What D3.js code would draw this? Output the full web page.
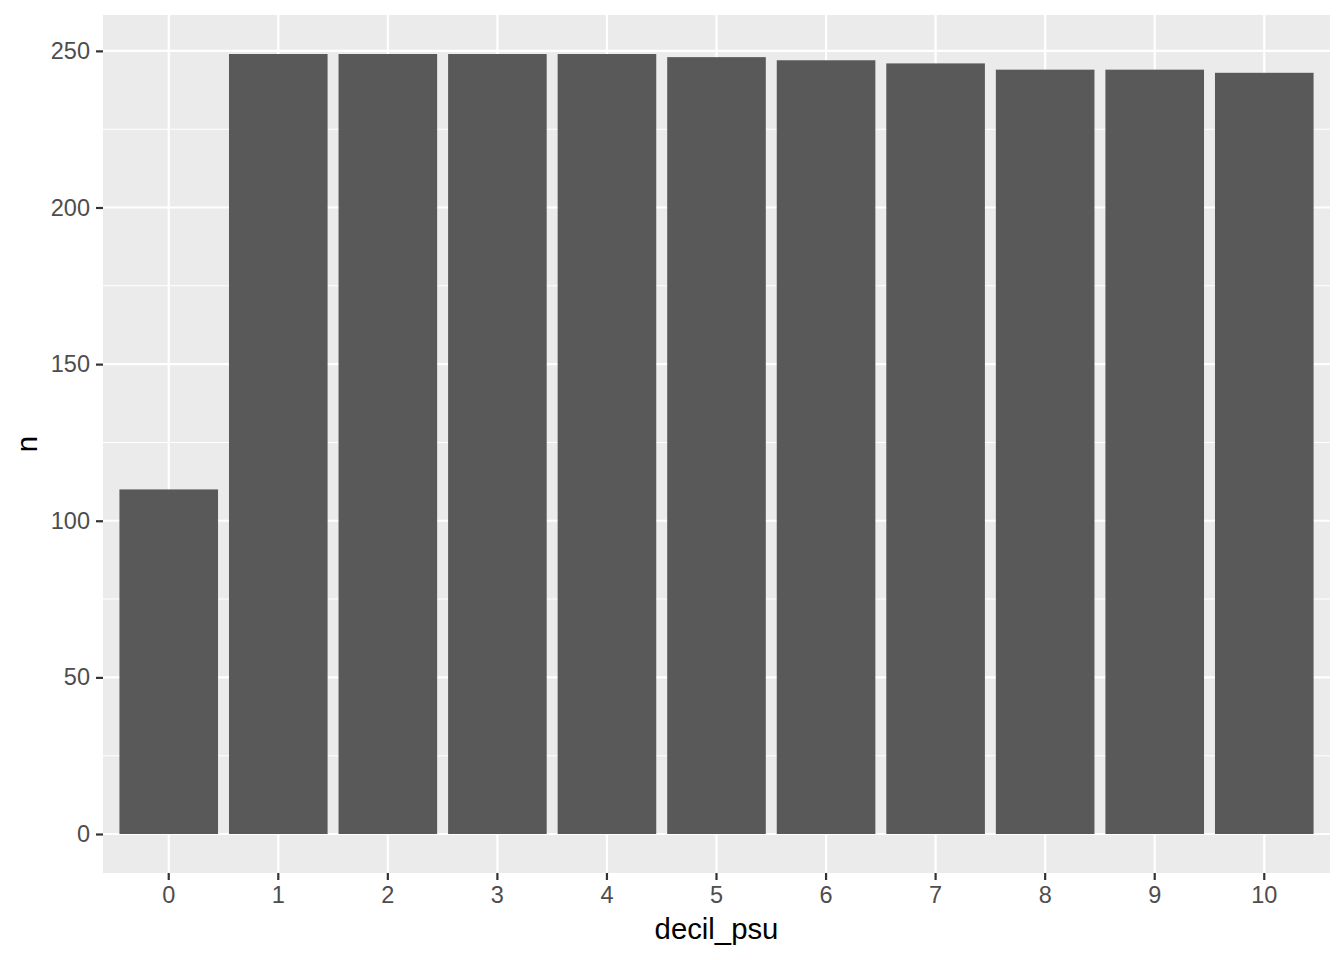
<!DOCTYPE html>
<html>
<head>
<meta charset="utf-8">
<script src="https://cdn.jsdelivr.net/npm/d3@7"></script>
<style>
  body { margin: 0; background: #fff; }
  text { font-family: "Liberation Sans", Arial, sans-serif; }
</style>
</head>
<body>
<script>
'use strict';

const width = 1344;
const height = 960;

// data
const categories = ['0', '1', '2', '3', '4', '5', '6', '7', '8', '9', '10'];
const counts = [110, 249, 249, 249, 249, 248, 247, 246, 244, 244, 243];
const yTicks = [0, 50, 100, 150, 200, 250];
const yMinor = [25, 75, 125, 175, 225];

const panel = { left: 103, right: 1330, top: 15, bottom: 873 };

let svg = d3.select('body').append('svg')
    .attr('width', width)
    .attr('height', height);

// ggplot style expansion: 5% each side of the data range
const ymax = d3.max(counts);
const pad = ymax * 0.05;

let x = d3.scaleBand()
    .domain(categories)
    .range([panel.left, panel.right])
    .paddingInner(0.1)
    .paddingOuter(0.15);

let y = d3.scaleLinear()
    .domain([-pad, ymax + pad])
    .range([panel.bottom, panel.top]);

// panel background
svg.append('rect')
    .attr('x', panel.left)
    .attr('y', panel.top)
    .attr('width', panel.right - panel.left)
    .attr('height', panel.bottom - panel.top)
    .attr('fill', '#ebebeb');

// minor grid
svg.selectAll('line.minor')
    .data(yMinor).enter()
    .append('line')
    .attr('x1', panel.left).attr('x2', panel.right)
    .attr('y1', d => y(d)).attr('y2', d => y(d))
    .attr('stroke', '#fff')
    .attr('stroke-width', 1.1);

// major grid
svg.selectAll('line.majory')
    .data(yTicks).enter()
    .append('line')
    .attr('x1', panel.left).attr('x2', panel.right)
    .attr('y1', d => y(d)).attr('y2', d => y(d))
    .attr('stroke', '#fff')
    .attr('stroke-width', 2.2);

svg.selectAll('line.majorx')
    .data(categories).enter()
    .append('line')
    .attr('x1', d => x(d) + x.bandwidth() / 2)
    .attr('x2', d => x(d) + x.bandwidth() / 2)
    .attr('y1', panel.top).attr('y2', panel.bottom)
    .attr('stroke', '#fff')
    .attr('stroke-width', 2.2);

// bars
svg.selectAll('rect.bar')
    .data(counts).enter()
    .append('rect')
    .attr('x', (d, i) => x(categories[i]))
    .attr('width', x.bandwidth())
    .attr('y', d => y(d))
    .attr('height', d => y(0) - y(d))
    .attr('fill', '#595959');

// y axis
let yAxis = d3.axisLeft(y)
    .tickValues(yTicks)
    .tickSize(7)
    .tickPadding(6);

let gy = svg.append('g')
    .attr('transform', `translate(${panel.left},0)`)
    .call(yAxis);
gy.select('.domain').remove();
gy.selectAll('.tick line').attr('stroke', '#333').attr('stroke-width', 2.2);
gy.selectAll('.tick text')
    .attr('fill', '#4d4d4d')
    .style('font-size', '23.5px')
    .style('font-family', '"Liberation Sans", Arial, sans-serif');

// x axis
let xAxis = d3.axisBottom(x)
    .tickSize(7)
    .tickPadding(6);

let gx = svg.append('g')
    .attr('transform', `translate(0,${panel.bottom})`)
    .call(xAxis);
gx.select('.domain').remove();
gx.selectAll('.tick line').attr('stroke', '#333').attr('stroke-width', 2.2);
gx.selectAll('.tick text')
    .attr('fill', '#4d4d4d')
    .style('font-size', '23.5px')
    .style('font-family', '"Liberation Sans", Arial, sans-serif');

// axis titles
svg.append('text')
    .attr('x', (panel.left + panel.right) / 2)
    .attr('y', 939)
    .attr('text-anchor', 'middle')
    .style('font-size', '29.3px')
    .text('decil_psu');

svg.append('text')
    .attr('transform', `translate(37,${(panel.top + panel.bottom) / 2}) rotate(-90)`)
    .attr('text-anchor', 'middle')
    .style('font-size', '29.3px')
    .text('n');

</script>
</body>
</html>
